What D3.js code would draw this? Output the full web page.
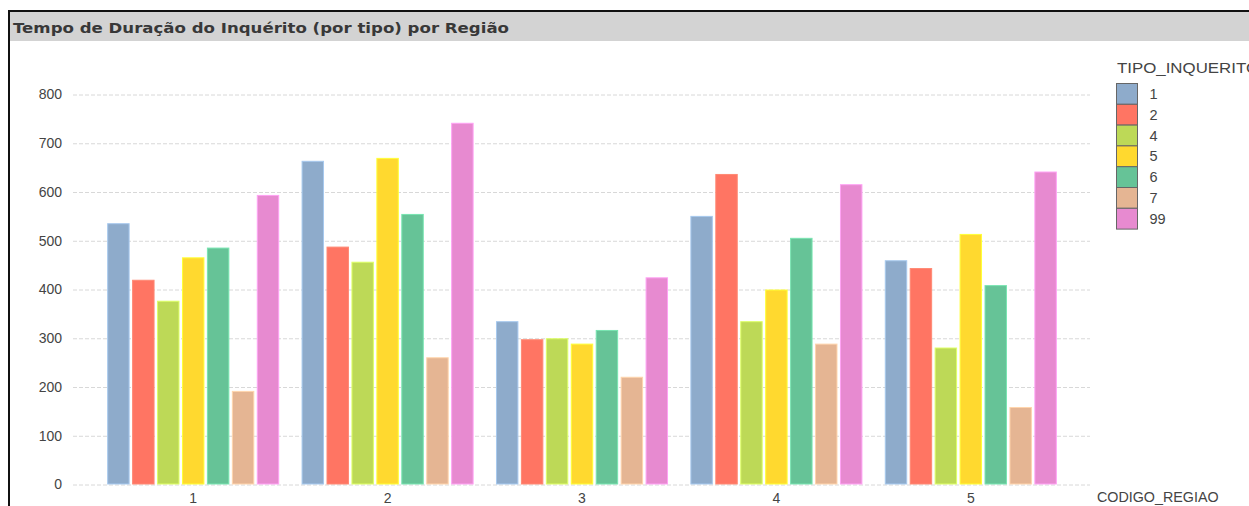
<!DOCTYPE html>
<html>
<head>
<meta charset="utf-8">
<script src="https://cdn.jsdelivr.net/npm/d3@7"></script>
<style>
  html, body { margin: 0; padding: 0; background: #fff; overflow: hidden; }
  svg { display: block; }
</style>
</head>
<body>
<svg id="chart" width="1249" height="506"></svg>
<script>
// Regions on the x axis and inquiry types in the legend
const regions = ["1", "2", "3", "4", "5"];
const types = ["1", "2", "4", "5", "6", "7", "99"];
const typeColors = ["#8EABCB", "#FF7563", "#BDD957", "#FFD92F", "#66C397", "#E5B593", "#E78AD0"];
const yTicks = [0, 100, 200, 300, 400, 500, 600, 700, 800];

// Average duration per type, one array per region
const region1 = [536, 420, 377, 466, 486, 192, 594];
const region2 = [664, 488, 457, 670, 555, 261, 742];
const region3 = [335, 298, 300, 289, 317, 221, 425];
const region4 = [551, 637, 335, 400, 506, 289, 616];
const region5 = [460, 444, 281, 514, 409, 159, 642];
const values = [region1, region2, region3, region4, region5];

const svg = d3.select("#chart");
const W = 1249, H = 506;

// Frame and title bar
svg.append("rect").attr("x", 10).attr("y", 12).attr("width", W - 10).attr("height", 29).attr("fill", "#D3D3D3");
svg.append("line").attr("x1", 8).attr("x2", W).attr("y1", 11).attr("y2", 11).attr("stroke", "#111").attr("stroke-width", 2);
svg.append("line").attr("x1", 9).attr("x2", 9).attr("y1", 10).attr("y2", H).attr("stroke", "#111").attr("stroke-width", 2);
svg.append("text")
  .attr("x", 13).attr("y", 33)
  .attr("font-family", "DejaVu Sans, Verdana, sans-serif")
  .attr("font-size", 14.5).attr("font-weight", "bold")
  .attr("fill", "#383838")
  .attr("textLength", 496).attr("lengthAdjust", "spacingAndGlyphs")
  .text("Tempo de Duração do Inquérito (por tipo) por Região");

// Scales
const y = d3.scaleLinear().domain([0, 800]).range([484.5, 94.5]);
const x0 = d3.scaleBand().domain(regions).range([96, 1068]).paddingInner(0.115).paddingOuter(0.0575);
const x1 = d3.scaleBand().domain(types).range([0, x0.bandwidth()]).paddingInner(0.1);
const color = d3.scaleOrdinal().domain(types).range(typeColors);

const fontFam = "Liberation Sans, Arial, sans-serif";

// Horizontal dashed gridlines with tick labels
const yAxis = d3.axisLeft(y).tickValues(yTicks).tickSize(-(1090 - 73)).tickPadding(11);
const gy = svg.append("g").attr("transform", "translate(73,0)").call(yAxis);
gy.select(".domain").remove();
gy.selectAll(".tick line").attr("stroke", "#D8D8D8").attr("stroke-dasharray", "4,2");
gy.selectAll(".tick text").attr("font-family", fontFam).attr("font-size", 14).attr("fill", "#444");

// Bars
const groups = svg.append("g").selectAll("g")
  .data(regions)
  .join("g")
  .attr("transform", d => `translate(${x0(d)},0)`);

groups.selectAll("rect")
  .data((r, i) => types.map((t, j) => ({ type: t, value: values[i][j] })))
  .join("rect")
  .attr("x", d => x1(d.type) + 0.5)
  .attr("y", d => y(d.value) + 0.5)
  .attr("width", x1.bandwidth() - 1)
  .attr("height", d => y(0) - y(d.value) - 1)
  .attr("fill", d => color(d.type))
  .attr("stroke", d => d3.color(color(d.type)).brighter(0.45))
  .attr("stroke-width", 1);

// Category axis labels
const xAxis = d3.axisBottom(x0).tickSize(0).tickPadding(9);
const gx = svg.append("g").attr("transform", `translate(0,${y(0)})`).call(xAxis);
gx.select(".domain").remove();
gx.selectAll(".tick text").attr("font-family", fontFam).attr("font-size", 14).attr("fill", "#444");

svg.append("text")
  .attr("x", 1097).attr("y", 502)
  .attr("font-family", fontFam).attr("font-size", 14.3).attr("fill", "#444")
  .text("CODIGO_REGIAO");

// Legend
svg.append("text")
  .attr("x", 1117).attr("y", 73)
  .attr("font-family", fontFam).attr("font-size", 14.5).attr("fill", "#444")
  .attr("textLength", 142).attr("lengthAdjust", "spacingAndGlyphs")
  .text("TIPO_INQUERITO");

const leg = svg.append("g").selectAll("g")
  .data(types)
  .join("g")
  .attr("transform", (d, i) => `translate(1116.5,${83.5 + i * 20.8})`);
leg.append("rect")
  .attr("width", 21).attr("height", 20.8)
  .attr("fill", d => color(d))
  .attr("stroke", "#666").attr("stroke-width", 1);
leg.append("text")
  .attr("x", 33).attr("y", 15.5)
  .attr("font-family", fontFam).attr("font-size", 14.5).attr("fill", "#444")
  .text(d => d);
</script>
</body>
</html>
